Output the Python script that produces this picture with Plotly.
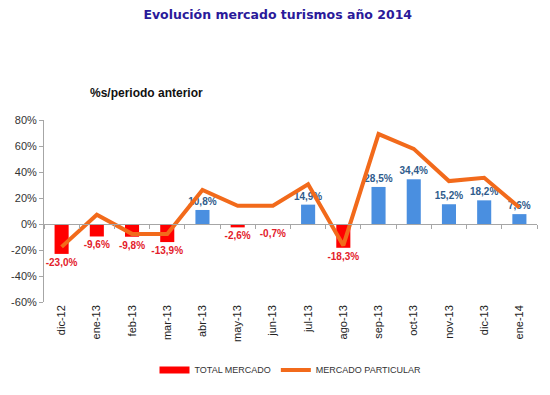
import plotly.graph_objects as go

months = ["dic-12", "ene-13", "feb-13", "mar-13", "abr-13", "may-13", "jun-13",
          "jul-13", "ago-13", "sep-13", "oct-13", "nov-13", "dic-13", "ene-14"]
total_mercado = [-23.0, -9.6, -9.8, -13.9, 10.8, -2.6, -0.7, 14.9, -18.3, 28.5, 34.4, 15.2, 18.2, 7.6]
mercado_particular = [-17.6, 7.1, -7.6, -7.6, 26.2, 14.0, 14.0, 30.5, -16.5, 69.2, 57.8, 33.0, 35.6, 12.7]
y_ticks = [-60, -40, -20, 0, 20, 40, 60, 80]
y_tick_labels = [f"{v}%" for v in y_ticks]

RED = "#FF0000"
BLUE = "#4A8FE0"
RED_TXT = "#E3202A"
BLUE_TXT = "#2F5C8C"
ORANGE = "#F26A1B"

bar_colors = [RED if v < 0 else BLUE for v in total_mercado]
text_colors = [RED_TXT if v < 0 else BLUE_TXT for v in total_mercado]
bar_text = [f"{v:.1f}%".replace(".", ",") for v in total_mercado]

fig = go.Figure()
fig.add_trace(go.Bar(
    x=months, y=total_mercado, name="TOTAL MERCADO",
    marker=dict(color=bar_colors, line=dict(width=0)),
    width=0.4,
    text=bar_text, textposition="outside", constraintext="none",
    textfont=dict(family="Liberation Sans", size=10, color=text_colors, weight="bold"),
    cliponaxis=False, showlegend=False,
    xaxis="x", yaxis="y",
))
# legend entry for the bars (wide red swatch as in the reference)
fig.add_trace(go.Scatter(
    x=months, y=[None] * len(months), name="TOTAL MERCADO",
    mode="lines", line=dict(color=RED, width=7),
    xaxis="x2", yaxis="y",
))
fig.add_trace(go.Scatter(
    x=months, y=mercado_particular, name="MERCADO PARTICULAR",
    mode="lines", line=dict(color=ORANGE, width=4),
    xaxis="x2", yaxis="y",
))

fig.update_layout(
    width=550, height=395, autosize=False,
    margin=dict(l=44, r=13, t=120, b=92),
    paper_bgcolor="white", plot_bgcolor="white",
    showlegend=True,
    legend=dict(orientation="h", x=0.5, xanchor="center", y=-0.366, yanchor="middle",
                font=dict(family="Liberation Sans", size=9, color="#333333"),
                traceorder="normal"),
    title=dict(text="<b>Evolución mercado turismos año 2014</b>",
               x=0.505, xanchor="center", y=1 - 15 / 395, yanchor="middle",
               font=dict(family="DejaVu Sans", size=12.5, color="#2A1A9A")),
    annotations=[dict(text="<b>%s/periodo anterior</b>", xref="paper", yref="paper",
                      x=(88 - 44) / 493, xanchor="left", y=1 + (120 - 93) / 183, yanchor="middle",
                      showarrow=False,
                      font=dict(family="Liberation Sans", size=12, color="#111111"))],
    xaxis=dict(type="category", categoryarray=months, range=[-0.5, 13.5],
               showline=False, showgrid=False, zeroline=False, ticks="",
               tickangle=-90, tickfont=dict(family="Liberation Sans", size=11, color="#222222")),
    xaxis2=dict(type="category", categoryarray=months, range=[-0.5, 13.5],
                overlaying="x", anchor="free", position=60 / 140,
                showline=True, linecolor="#A6A6A6", linewidth=1,
                ticks="outside", tickson="boundaries", ticklen=4, tickcolor="#A6A6A6",
                showticklabels=False, showgrid=False, zeroline=False),
    yaxis=dict(range=[-60, 80], tickvals=y_ticks, ticktext=y_tick_labels,
               showgrid=False, zeroline=False, showline=True, linecolor="#A6A6A6",
               ticks="outside", ticklen=4, tickcolor="#A6A6A6",
               tickfont=dict(family="Liberation Sans", size=11, color="#333333")),
)

fig.write_html("out.html", config={"displayModeBar": False},
               post_script="document.body.style.margin='0';")
